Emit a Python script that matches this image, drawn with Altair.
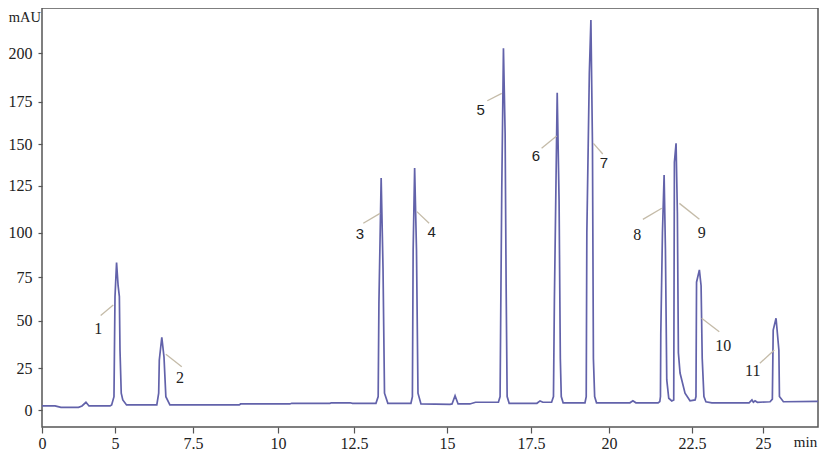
import altair as alt
import pandas as pd

# Chromatogram trace: retention time (min) and absorbance (mAU)
trace_t = [0.0, 0.89, 1.3, 2.5, 2.74, 3.01, 3.22, 4.66,
           4.77, 4.93, 5.00, 5.05, 5.10, 5.14, 5.16, 5.20, 5.25, 5.37,
           6.34, 6.40, 6.42, 6.50, 6.57, 6.63, 6.76,
           8.86, 8.90, 10.39, 10.45, 11.71, 11.75, 12.37, 12.45,
           13.09, 13.15, 13.17, 13.23, 13.28, 13.32, 13.41,
           14.03, 14.07, 14.09, 14.13, 14.18, 14.22, 14.30,
           15.09, 15.15, 15.24, 15.33, 15.68, 15.85,
           16.53, 16.58, 16.60, 16.63, 16.68, 16.73, 16.76, 16.79, 16.85,
           17.69, 17.79, 17.88,
           18.16, 18.22, 18.25, 18.34, 18.40, 18.44, 18.47, 18.53,
           19.23, 19.27, 19.29, 19.37, 19.42, 19.47, 19.50, 19.54, 19.60,
           20.63, 20.72, 20.81, 21.48,
           21.53, 21.55, 21.56, 21.61, 21.66, 21.70, 21.74, 21.80, 21.89,
           21.95, 21.97, 22.02, 22.06, 22.09, 22.14, 22.29, 22.44,
           22.61, 22.64, 22.66, 22.76, 22.82, 22.86, 22.92, 22.99,
           23.20, 24.51, 24.61, 24.66, 24.72, 24.80,
           25.25, 25.33, 25.36, 25.46, 25.56, 25.58, 25.72,
           26.94]
trace_v = [2.4, 2.4, 1.6, 1.6, 2.4, 4.6, 2.4, 2.4,
           3.0, 7.9, 63.7, 83.1, 70.0, 63.7, 34.5, 10.0, 6.0, 3.0,
           3.0, 10.0, 29.2, 41.2, 30.9, 7.9, 3.0,
           3.0, 3.6, 3.6, 4.0, 4.0, 4.3, 4.3, 4.0,
           4.0, 8.0, 60.0, 129.6, 80.0, 10.0, 4.0,
           4.0, 8.0, 90.0, 135.6, 90.0, 10.0, 3.6,
           3.4, 3.6, 8.5, 3.6, 3.6, 4.6,
           4.6, 8.0, 56.0, 123.0, 202.6, 156.0, 70.0, 8.0, 4.0,
           4.0, 5.4, 4.6,
           4.6, 8.0, 62.0, 179.6, 117.0, 30.0, 8.0, 4.3,
           4.3, 8.0, 100.0, 190.0, 217.2, 150.0, 30.0, 8.0, 4.3,
           4.3, 5.5, 4.3, 4.3,
           5.0, 8.0, 43.0, 100.0, 131.4, 90.0, 17.9, 7.0, 5.4,
           6.0, 139.0, 150.4, 110.0, 33.0, 22.0, 10.0, 5.5,
           6.0, 8.0, 72.0, 79.0, 70.0, 30.0, 8.0, 4.9,
           4.3, 4.3, 6.0, 4.6, 5.5, 4.6,
           4.9, 6.5, 45.0, 51.3, 34.5, 8.0, 4.9,
           5.1]

# Peak labels
label_text = ["1", "2", "3", "4", "5", "6", "7", "8", "9", "10", "11"]
label_t = [3.86, 7.08, 12.66, 14.59, 16.00, 17.66, 19.84, 20.85, 22.84, 23.60, 24.64]
label_v = [45.4, 18.9, 99.3, 100.5, 170.1, 142.8, 138.4, 98.7, 99.6, 36.7, 23.4]
label_sans = [False, False, True, True, True, True, True, False, False, False, False]

# Leader lines (start / end, in data units)
lead_t1 = [4.02, 6.63, 12.75, 14.19, 16.20, 17.84, 19.50, 21.02, 22.12, 22.84, 24.89]
lead_v1 = [52.9, 32.2, 105.0, 111.2, 175.5, 147.4, 150.4, 107.1, 115.6, 51.3, 27.5]
lead_t2 = [4.88, 7.14, 13.20, 14.52, 16.63, 18.32, 19.80, 21.59, 22.76, 23.46, 25.40]
lead_v2 = [58.9, 25.7, 110.3, 105.0, 179.3, 154.7, 144.0, 113.0, 107.1, 44.1, 34.5]

x_ticks = [0, 5, 7.5, 10, 12.5, 15, 17.5, 20, 22.5, 25]
y_ticks = [0, 25, 50, 75, 100, 125, 150, 175, 200]

trace = pd.DataFrame({"t": trace_t, "v": trace_v, "i": list(range(len(trace_t)))})
labels = pd.DataFrame({"txt": label_text, "t": label_t, "v": label_v, "sans": label_sans})
leads = pd.DataFrame({"t1": lead_t1, "v1": lead_v1, "t2": lead_t2, "v2": lead_v2})

W, H = 776, 419
SERIF = "Liberation Serif"
SANS = "Liberation Sans"

# piecewise scales reproduce the uneven axis spacing of the original figure
x_scale = alt.Scale(domain=[0, 5, 7.5, 10, 12.5, 15, 17.5, 20, 22.5, 25, 26.94],
                    range=[0, 73, 151, 236, 312, 405, 489, 567, 650, 721, 776],
                    nice=False, zero=False)
y_scale = alt.Scale(domain=[-10.1, 0, 25, 50, 75, 100, 125, 150, 175, 200, 223.4],
                    range=[419, 402, 360, 312.5, 269, 224.7, 177.7, 136, 93.7, 45.3, 0],
                    nice=False, zero=False)

x_axis = alt.Axis(values=x_ticks, labelExpr="'' + datum.value", grid=False, domain=False,
                  tickSize=6, tickColor="#555555", tickWidth=1.2,
                  labelFont=SERIF, labelFontSize=16, labelColor="#222222",
                  labelPadding=2, labelFlush=False, labelOverlap=False,
                  title="min", titleX=763, titleY=14, titleAlign="center",
                  titleBaseline="middle", titleFont=SERIF, titleFontSize=15,
                  titleFontWeight="normal", titleColor="#222222")
y_axis = alt.Axis(values=y_ticks, grid=False, domain=False,
                  tickSize=4, tickColor="#555555", tickWidth=1.2,
                  labelFont=SERIF, labelFontSize=16, labelColor="#222222",
                  labelPadding=6,
                  title="mAU", titleAngle=0, titleX=-1.5, titleY=9,
                  titleAlign="right", titleBaseline="middle", titleFont=SERIF,
                  titleFontSize=14.5, titleFontWeight="normal", titleColor="#222222")

line = alt.Chart(trace).mark_line(color="#6262aa", strokeWidth=1.7).encode(
    x=alt.X("t:Q", scale=x_scale, axis=x_axis),
    y=alt.Y("v:Q", scale=y_scale, axis=y_axis),
    order="i:Q",
)

rules = alt.Chart(leads).mark_rule(color="#c4bba8", strokeWidth=1.3).encode(
    x="t1:Q", y="v1:Q", x2="t2:Q", y2="v2:Q"
)

txt_serif = alt.Chart(labels).transform_filter("!datum.sans").mark_text(
    font=SERIF, fontSize=16, color="#222222", baseline="middle", align="center"
).encode(x="t:Q", y="v:Q", text="txt:N")

txt_sans = alt.Chart(labels).transform_filter("datum.sans").mark_text(
    font=SANS, fontSize=15, color="#222222", baseline="middle", align="center"
).encode(x="t:Q", y="v:Q", text="txt:N")

chart = alt.layer(line, rules, txt_serif, txt_sans).properties(
    width=W, height=H,
    autosize=alt.AutoSizeParams(type="none"),
    padding={"left": 34, "top": 0, "right": 3, "bottom": 23},
    background="white",
).configure_view(stroke="#555555", strokeWidth=1.5)

chart.save("out.html", embed_options={"renderer": "svg", "actions": False})
